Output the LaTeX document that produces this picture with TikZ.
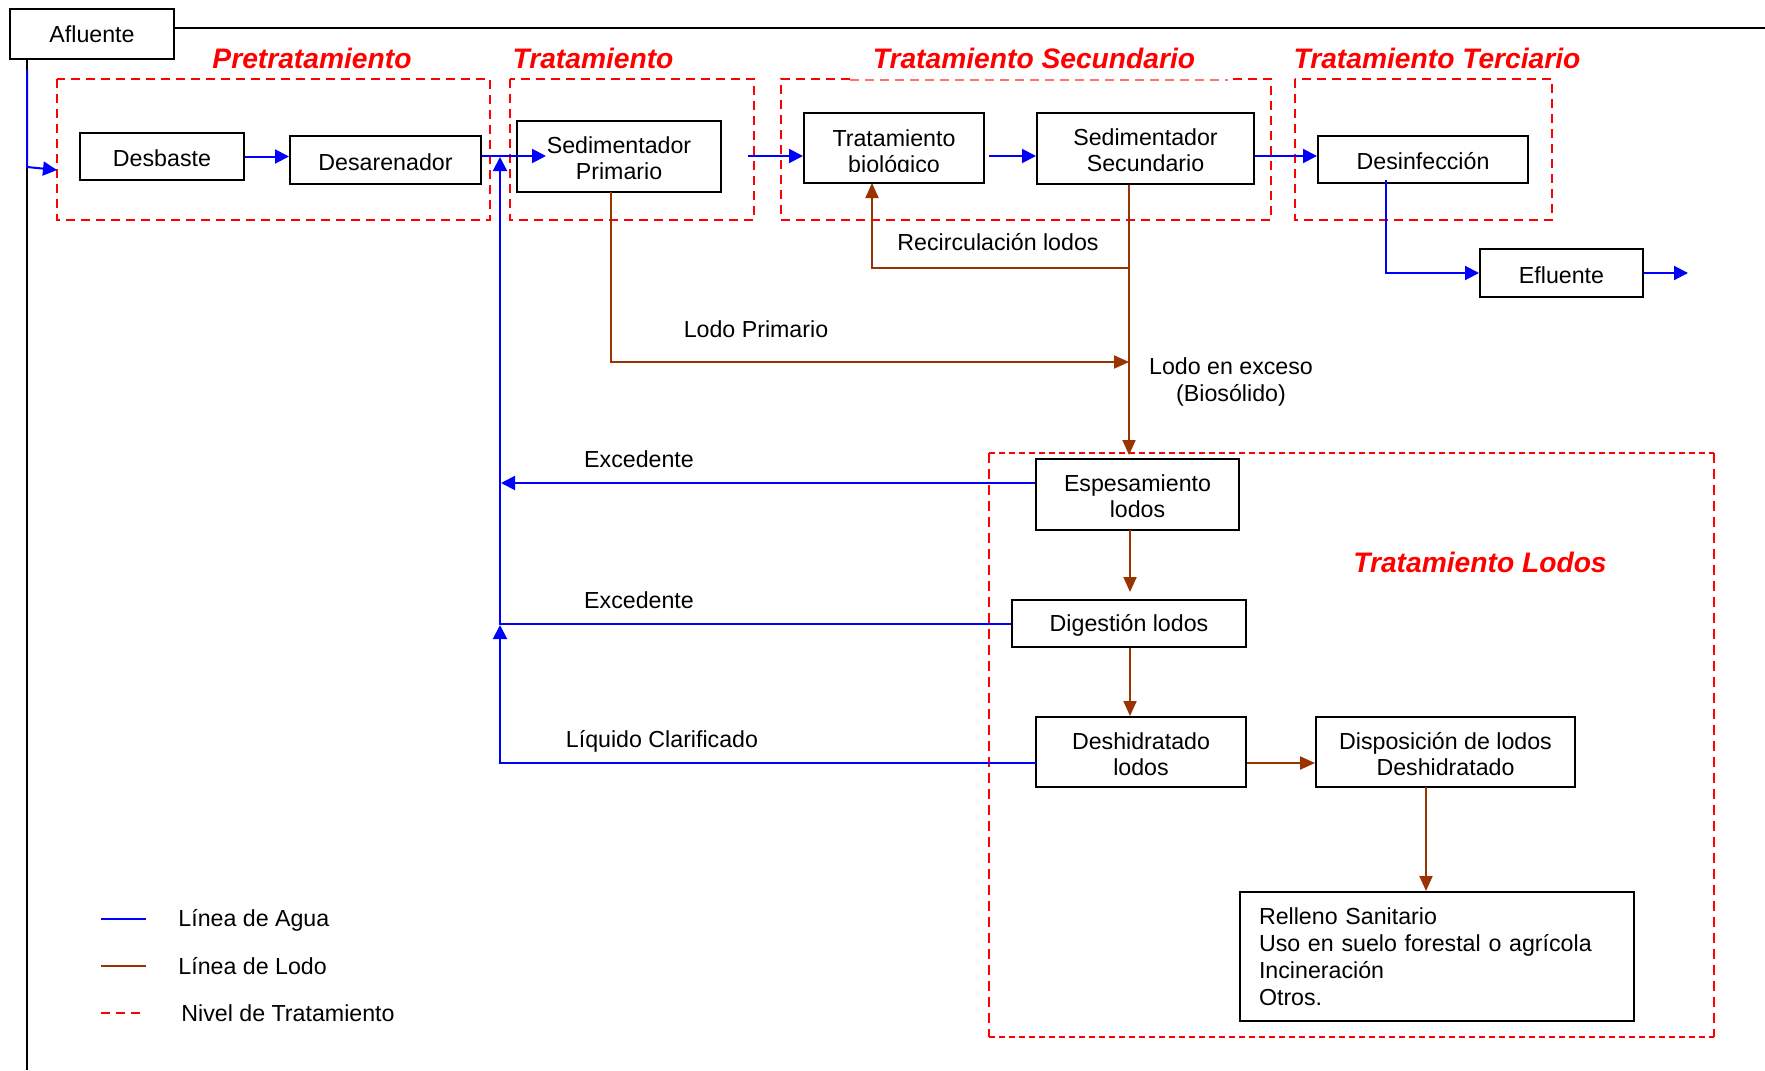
\documentclass[tikz,border=0pt]{standalone}
\usepackage{fontspec}
\setmainfont{Liberation Sans}
\usetikzlibrary{arrows.meta}
\definecolor{wline}{HTML}{0000FF}
\definecolor{sline}{HTML}{993300}
\definecolor{lvl}{HTML}{FF0000}
% invisible strut that lowers box captions slightly
\newcommand\bxst{\rule{0pt}{10.6pt}}
\begin{document}
\begin{tikzpicture}[x=0.5pt,y=-0.5pt,
  every node/.style={font=\fontsize{11.6}{13}\selectfont},
  blk/.style={draw=black, line width=1pt, fill=white, align=center, inner sep=0pt},
  lbl/.style={inner sep=0pt, align=center},
  title/.style={inner sep=0pt, text=lvl, font=\fontsize{14.1}{17}\selectfont\bfseries\itshape},
  water/.style={draw=wline, line width=1pt},
  sludge/.style={draw=sline, line width=1pt},
  wtip/.style={-{Triangle[length=7pt,width=7pt]}},
  stip/.style={-{Triangle[length=7.5pt,width=6.5pt]}},
  level/.style={draw=lvl, line width=1pt, dash pattern=on 4.5pt off 3pt},
  levelfine/.style={draw=lvl, line width=1pt, dash pattern=on 3pt off 2pt},
  levelside/.style={draw=lvl, line width=1pt, dash pattern=on 5pt off 3pt},
  mainline/.style={draw=black, line width=1pt},
]
\useasboundingbox (0,0) rectangle (1765,1070);

% ---- treatment levels (dashed frames) ----
\draw[level] (57,79) rectangle (490,220);
\draw[level] (510,79) rectangle (754,220);
\draw[level] (850,79) -| (781,220) -| (1271,79) -- (1228,79);
\draw[draw=lvl!55, line width=0.6pt, dash pattern=on 4.5pt off 3pt] (850,80) -- (1228,80);
\draw[level] (1295,79) rectangle (1552,220);
\draw[levelfine] (989,453) -- (1714,453);
\draw[levelfine] (989,1037) -- (1714,1037);
\draw[levelside] (989,453) -- (989,1037);
\draw[levelside] (1714,453) -- (1714,1037);

\node[title] (tPre) at (312,58) {Pretratamiento};
\node[title] (tTra) at (593,58) {Tratamiento};
\node[title] (tSec) at (1034,58) {Tratamiento Secundario};
\node[title] (tTer) at (1437,58) {Tratamiento Terciario};
\node[title] (tLod) at (1480,562) {Tratamiento Lodos};

% ---- process units ----
\node[blk, minimum width=82pt, minimum height=25pt] (afl) at (92,34) {Afluente};
\node[blk, minimum width=82pt, minimum height=23.5pt] (desb) at (162,156.5) {\bxst Desbaste};
\node[blk, minimum width=95.5pt, minimum height=24pt] (desa) at (385.5,160) {\bxst Desarenador};
\node[blk, minimum width=102pt, minimum height=35.5pt] (sedp) at (619,156.5) {\bxst Sedimentador\\Primario};
\node[blk, minimum width=90pt, minimum height=35pt] (bio) at (894,148) {};
\begin{scope}
  \clip (806,115) rectangle (982,171);
  \node[lbl, font=\fontsize{11.6}{13}\selectfont] (bioTxt) at (894,154) {Tratamiento\\biológico};
\end{scope}
\node[blk, minimum width=108.5pt, minimum height=35.5pt] (seds) at (1145.5,148.5) {\bxst Sedimentador\\Secundario};
\node[blk, minimum width=105pt, minimum height=23.5pt] (desi) at (1423,159.5) {\bxst Desinfección};
\node[blk, minimum width=81.5pt, minimum height=24pt] (eflu) at (1561.5,273) {\bxst Efluente};
\node[blk, minimum width=101.5pt, minimum height=35.5pt] (esp) at (1137.5,494.5) {\bxst Espesamiento\\lodos};
\node[blk, minimum width=117pt, minimum height=23.5pt] (dig) at (1129,623.5) {\bxst Digestión lodos};
\node[blk, minimum width=105pt, minimum height=35pt] (desh) at (1141,752) {\bxst Deshidratado\\lodos};
\node[blk, minimum width=129.5pt, minimum height=35pt] (disp) at (1445.5,752) {\bxst Disposición de lodos\\Deshidratado};
\node[blk, align=left, text width=178pt, inner xsep=9.5pt, minimum height=64.5pt,
      font=\fontsize{11.6}{13.5}\selectfont] (rell) at (1437,956.5)
  {Relleno Sanitario\\Uso en suelo forestal o agrícola\\Incineración\\Otros.};

% ---- free labels ----
\node[lbl] (lRec) at (998,242) {Recirculación lodos};
\node[lbl] (lPri) at (756,329) {Lodo Primario};
\node[lbl, font=\fontsize{11.6}{13.5}\selectfont] (lExc) at (1231,382) {Lodo en exceso\\(Biosólido)};
\node[lbl] (lEx1) at (639,459) {Excedente};
\node[lbl] (lEx2) at (639,600) {Excedente};
\node[lbl] (lLiq) at (662,741) {Líquido Clarificado};

% ---- helper points ----
\coordinate (topEnd) at (1765,28);
\coordinate (sideEnd) at (27,1070);
\coordinate (inTop) at (27,70);
\coordinate (inBend) at (27,167);
\coordinate (inTip) at (57,170);
\coordinate (sedpIn) at (546,156);
\coordinate (bioIn) at (748,156);
\coordinate (bioOut) at (989,156);
\coordinate (desiOut) at (1386,180);
\coordinate (outTip) at (1688,273);
\coordinate (retX) at (500,157);
\coordinate (ex1Tip) at (501,483);
\coordinate (liqY) at (1036,763);
\coordinate (liqTip) at (500,625);
\coordinate (pLodo) at (611,192);
\coordinate (pLodoY) at (611,362);
\coordinate (sLodo) at (1129,185);
\coordinate (sLodoTip) at (1129,455);
\coordinate (recY) at (1129,268);
\coordinate (recTip) at (872,183);
\coordinate (espOut) at (1130,530);
\coordinate (digIn) at (1130,592);
\coordinate (deshIn) at (1130,716);
\coordinate (dispOut) at (1426,787);
\coordinate (rellIn) at (1426,891);

% ---- influent main line ----
\draw[mainline] (afl.east |- topEnd) -- (topEnd);
\draw[mainline] (sideEnd |- afl.south) -- (sideEnd);

% ---- water line ----
\draw[water, wtip] (inTop) -- (inBend) -- (inTip);
\draw[water, wtip] (desb.east) -- (desb.east -| desa.west);
\draw[water, wtip] (desa.east |- sedpIn) -- (sedpIn);
\draw[water, wtip] (bioIn) -- (bioIn -| bio.west);
\draw[water, wtip] (bioOut) -- (bioOut -| seds.west);
\draw[water, wtip] (seds.east |- bioIn) -- (bioIn -| desi.west);
\draw[water, wtip] (desiOut) |- (eflu.west);
\draw[water, wtip] (eflu.east) -- (outTip);
\draw[water, wtip] (esp.west |- ex1Tip) -- (ex1Tip);
\draw[water, wtip] (dig.west) -- (retX |- dig.west) -- (retX);
\draw[water, wtip] (liqY) -- (liqTip |- liqY) -- (liqTip);

% ---- sludge line ----
\draw[sludge, stip] (pLodo) -- (pLodoY) -- (sLodo |- pLodoY);
\draw[sludge, stip] (sLodo) -- (sLodoTip);
\draw[sludge, stip] (recY) -- (recTip |- recY) -- (recTip);
\draw[sludge, stip] (espOut) -- (digIn);
\draw[sludge, stip] (dig.south -| digIn) -- (deshIn);
\draw[sludge, stip] (desh.east |- liqY) -- (disp.west |- liqY);
\draw[sludge, stip] (dispOut) -- (rellIn);

% ---- legend ----
\draw[water] (101,919) -- (146,919);
\draw[sludge] (101,966) -- (146,966);
\draw[draw=lvl, line width=1pt, dash pattern=on 4.5pt off 3pt] (101,1013) -- (146,1013);
\node[lbl, anchor=west] (lgA) at (178,920) {Línea de Agua};
\node[lbl, anchor=west] (lgL) at (178,966) {Línea de Lodo};
\node[lbl, anchor=west] (lgN) at (181,1013) {Nivel de Tratamiento};
\end{tikzpicture}
\end{document}
